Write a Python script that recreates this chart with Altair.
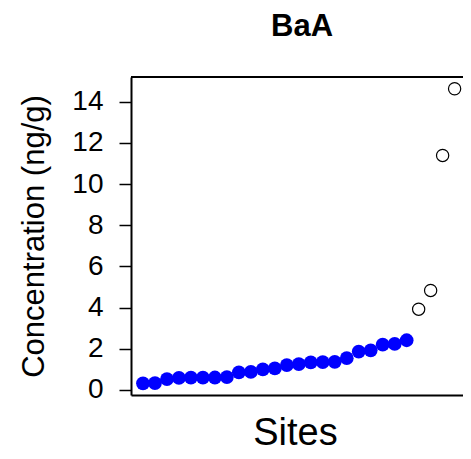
import altair as alt
import pandas as pd

# Data
site_index = [1, 2, 3, 4, 5, 6, 7, 8, 9, 10, 11, 12, 13, 14, 15, 16, 17, 18, 19, 20,
              21, 22, 23, 24, 25, 26, 27]
concentration = [0.32, 0.33, 0.52, 0.58, 0.59, 0.59, 0.60, 0.62, 0.85, 0.87, 0.99, 1.04,
                 1.20, 1.25, 1.33, 1.35, 1.36, 1.54, 1.86, 1.92, 2.20, 2.23, 2.41,
                 3.92, 4.83, 11.39, 14.63]
point_kind = ["regular", "regular", "regular", "regular", "regular", "regular", "regular",
              "regular", "regular", "regular", "regular", "regular", "regular", "regular",
              "regular", "regular", "regular", "regular", "regular", "regular", "regular",
              "regular", "regular", "outlier", "outlier", "outlier", "outlier"]
y_ticks = [0, 2, 4, 6, 8, 10, 12, 14]

FONT = "Liberation Sans"
W, H = 332, 318

df = pd.DataFrame({"site": site_index, "conc": concentration, "kind": point_kind})

x_enc = alt.X(
    "site:Q",
    scale=alt.Scale(domain=[0, 27.7], nice=False, zero=False),
    axis=alt.Axis(
        title="Sites", labels=False, ticks=False, grid=False,
        domain=True, domainColor="black", domainWidth=2,
        titleFont=FONT, titleFontSize=38, titleFontWeight="normal", titleColor="black",
        titleX=164, titleY=49, titleBaseline="alphabetic", titleAlign="center",
    ),
)
y_enc = alt.Y(
    "conc:Q",
    scale=alt.Scale(domain=[-0.25, 15.2], nice=False, zero=False),
    axis=alt.Axis(
        title="Concentration (ng/g)", values=y_ticks, grid=False,
        tickSize=12, tickColor="black", tickWidth=1.5,
        labelFont=FONT, labelFontSize=28, labelColor="black", labelPadding=16,
        domainColor="black", domainWidth=2,
        titleFont=FONT, titleFontSize=31, titleFontWeight="normal", titleColor="black",
        titleAngle=270, titleX=-88, titleY=159, titleAlign="center",
        titleBaseline="alphabetic",
    ),
)

base = alt.Chart(df)
filled = base.transform_filter(alt.datum.kind == "regular").mark_point(
    shape="circle", filled=True, size=190, color="blue", opacity=1
).encode(x=x_enc, y=y_enc)
hollow = base.transform_filter(alt.datum.kind == "outlier").mark_point(
    shape="circle", filled=False, size=150, color="black", strokeWidth=1.2, opacity=1
).encode(x=x_enc, y=y_enc)

top_edge = alt.Chart(pd.DataFrame({"edge": [0]})).mark_rule(
    color="black", strokeWidth=2
).encode(x=alt.value(0), x2=alt.value(W), y=alt.value(0))

chart = alt.layer(filled, hollow, top_edge).properties(
    width=W, height=H,
    title=alt.TitleParams("BaA", font=FONT, fontSize=31, fontWeight="bold",
                          color="black", anchor="middle", offset=33, dx=5),
    autosize=alt.AutoSizeParams(type="none"),
    padding={"left": 123, "top": 69, "right": 0, "bottom": 56},
).configure_view(stroke=None)

chart.save("out.html", embed_options={"renderer": "svg", "actions": False})
